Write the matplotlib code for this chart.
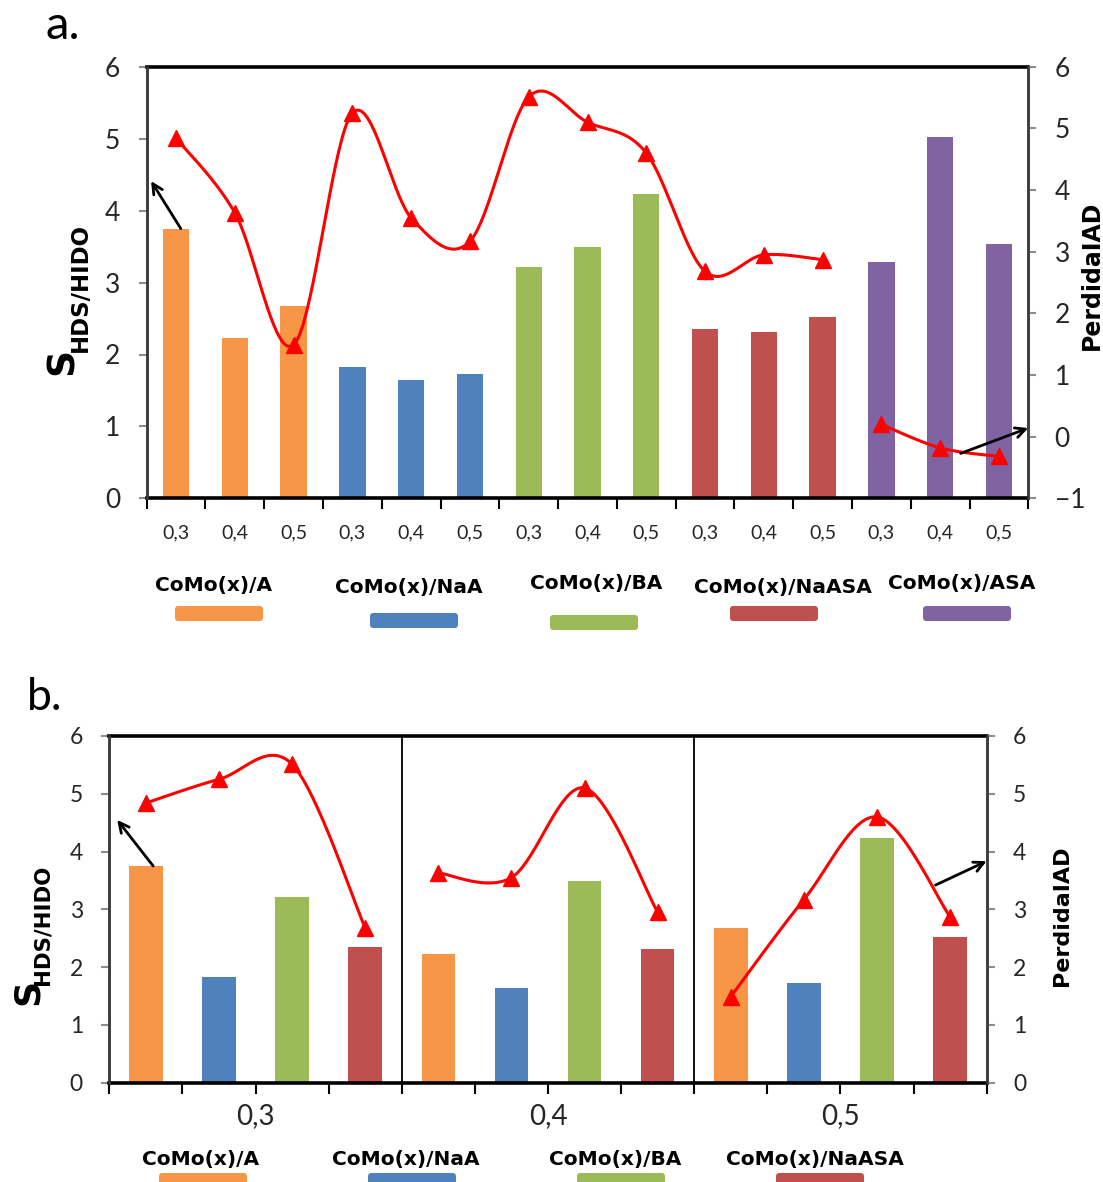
import numpy as np
import matplotlib
matplotlib.use('Agg')
import matplotlib.pyplot as plt
from matplotlib.patches import FancyBboxPatch


# Data
supports = ['CoMo(x)/A', 'CoMo(x)/NaA', 'CoMo(x)/BA', 'CoMo(x)/NaASA', 'CoMo(x)/ASA']
loadings = ['0,3', '0,4', '0,5']
colors = ['#F79646', '#4F81BD', '#9BBB59', '#C0504D', '#8064A2']

# S_HDS/HIDO (left axis) per support, for loadings 0,3 / 0,4 / 0,5
sel_A = [3.75, 2.23, 2.68]
sel_NaA = [1.83, 1.64, 1.73]
sel_BA = [3.21, 3.49, 4.23]
sel_NaASA = [2.35, 2.31, 2.52]
sel_ASA = [3.28, 5.02, 3.53]

# Perdida IAD (right axis)
loss_A = [4.84, 3.63, 1.49]
loss_NaA = [5.25, 3.55, 3.17]
loss_BA = [5.51, 5.10, 4.60]
loss_NaASA = [2.68, 2.95, 2.87]
loss_ASA = [0.20, -0.18, -0.32]

selectivity = [sel_A, sel_NaA, sel_BA, sel_NaASA, sel_ASA]
loss = [loss_A, loss_NaA, loss_BA, loss_NaASA, loss_ASA]

W, H = 1103, 1182
TICK_COLOR = '#262626'
NUM_FONT = 'Lato'
BOLD_FONT = 'DejaVu Sans'


def smooth(x, y, n=40):
    # Excel-like smoothed line: bezier segments with catmull-rom control points
    x = np.asarray(x, float)
    y = np.asarray(y, float)
    px = np.concatenate([[x[0]], x, [x[-1]]])
    py = np.concatenate([[y[0]], y, [y[-1]]])
    t = np.linspace(0, 1, n)
    xs, ys = [], []
    for i in range(1, len(px) - 2):
        p0 = np.array([px[i], py[i]])
        p3 = np.array([px[i + 1], py[i + 1]])
        c1 = p0 + (np.array([px[i + 1], py[i + 1]]) - np.array([px[i - 1], py[i - 1]])) / 6
        c2 = p3 - (np.array([px[i + 2], py[i + 2]]) - np.array([px[i], py[i]])) / 6
        pts = ((1 - t) ** 3)[:, None] * p0 + (3 * (1 - t) ** 2 * t)[:, None] * c1 \
            + (3 * (1 - t) * t ** 2)[:, None] * c2 + (t ** 3)[:, None] * p3
        xs.append(pts[:, 0])
        ys.append(pts[:, 1])
    return np.concatenate(xs), np.concatenate(ys)


def fig_rect(x0, y0, x1, y1):
    # pixel box (top-left origin) -> figure fraction rect
    return [x0 / W, 1 - y1 / H, (x1 - x0) / W, (y1 - y0) / H]


def style_axes(ax, ax2, ylim2, fs):
    for s in ['top', 'bottom']:
        ax.spines[s].set_linewidth(2.6)
        ax.spines[s].set_color('black')
    for a in (ax, ax2):
        a.spines['left'].set_linewidth(1.8)
        a.spines['left'].set_color('#3a3a3a')
        a.spines['right'].set_linewidth(1.8)
        a.spines['right'].set_color('#3a3a3a')
    ax2.spines['top'].set_visible(False)
    ax2.spines['bottom'].set_visible(False)
    ax.set_ylim(0, 6)
    ax.set_yticks(range(0, 7))
    ax2.set_ylim(*ylim2)
    ax2.set_yticks(range(ylim2[0], ylim2[1] + 1))
    for a in (ax, ax2):
        a.tick_params(axis='y', length=6, width=1.5, color='#8c8c8c', pad=13,
                      labelsize=fs, labelcolor=TICK_COLOR)
        for lab in a.get_yticklabels():
            lab.set_family(NUM_FONT)
    ax.tick_params(axis='x', which='major', length=8, width=1.5, color='black', labelbottom=False)
    ax.tick_params(axis='x', which='minor', length=0)


def legend_row(fig, entries, patch_h):
    for label, color, tx, ty, px0, py0 in entries:
        fig.text(tx / W, 1 - ty / H, label, ha='center', va='center',
                 fontsize=14.5, fontweight='bold', family=BOLD_FONT, color='black')
        r = fig_rect(px0, py0, px0 + 88, py0 + patch_h)
        fig.add_artist(FancyBboxPatch((r[0], r[1]), r[2], r[3],
                                      boxstyle='round,pad=0,rounding_size=0.003',
                                      transform=fig.transFigure, facecolor=color,
                                      edgecolor='none'))


fig = plt.figure(figsize=(W / 100, H / 100), dpi=100)

# ---------------- panel a ----------------
ax_a = fig.add_axes(fig_rect(146.7, 66.7, 1028.3, 498.4))
ax_a2 = ax_a.twinx()
n_load = len(loadings)
for j, (vals, col) in enumerate(zip(selectivity, colors)):
    xs = np.arange(n_load) + j * n_load
    ax_a.bar(xs, vals, width=0.45, color=col, zorder=2)
ax_a.set_xlim(-0.5, len(supports) * n_load - 0.5)
ax_a.set_xticks(np.arange(len(supports) * n_load + 1) - 0.5)
ax_a.set_xticks(np.arange(len(supports) * n_load), minor=True)
ax_a.set_xticklabels(loadings * len(supports), minor=True)
style_axes(ax_a, ax_a2, (-1, 6), 19)
ax_a.tick_params(axis='x', which='minor', pad=19, labelsize=14, labelcolor=TICK_COLOR)
for lab in ax_a.get_xticklabels(minor=True):
    lab.set_family(NUM_FONT)

# red line: first four supports joined, ASA on its own
joined_y = loss_A + loss_NaA + loss_BA + loss_NaASA
joined_x = np.arange(len(joined_y))
sx, sy = smooth(joined_x, joined_y)
ax_a2.plot(sx, sy, color='red', lw=2.2, zorder=3)
ax_a2.plot(joined_x, joined_y, ls='none', marker='^', ms=12, color='red', zorder=4)
asa_x = np.arange(n_load) + 4 * n_load
sx, sy = smooth(asa_x, loss_ASA)
ax_a2.plot(sx, sy, color='red', lw=2.2, zorder=3)
ax_a2.plot(asa_x, loss_ASA, ls='none', marker='^', ms=12, color='red', zorder=4)

arrow = dict(arrowstyle='->', color='black', lw=2, mutation_scale=18, shrinkA=0, shrinkB=0)
ax_a.annotate('', xy=(0.005, 0.735), xycoords='axes fraction',
              xytext=(0.08, sel_A[0]), textcoords='data', arrowprops=arrow)
ax_a2.annotate('', xy=(1.0, 0.163), xycoords='axes fraction',
               xytext=(13.35, -0.27), textcoords='data', arrowprops=arrow)

fig.text(45 / W, 1 - 39 / H, 'a.', fontsize=34, family=NUM_FONT, va='baseline', ha='left')
fig.text(63 / W, 1 - 361 / H, 'S', rotation=90, fontsize=27, fontweight='bold',
         family=BOLD_FONT, ha='center', va='center')
fig.text(80 / W, 1 - 287 / H, 'HDS/HIDO', rotation=90, fontsize=16.5, fontweight='bold',
         family=BOLD_FONT, ha='center', va='center')
fig.text(1092 / W, 1 - 275 / H, 'PerdidaIAD', rotation=90, fontsize=17, fontweight='bold',
         family=BOLD_FONT, ha='center', va='center')

legend_row(fig, [
    (supports[0], colors[0], 214, 586, 175, 606),
    (supports[1], colors[1], 409, 588, 370, 613),
    (supports[2], colors[2], 596, 583, 550, 615),
    (supports[3], colors[3], 783, 588, 730, 606),
    (supports[4], colors[4], 962, 583, 923, 606),
], 15)

# ---------------- panel b ----------------
ax_b = fig.add_axes(fig_rect(109.3, 736, 986.7, 1082.7))
ax_b2 = ax_b.twinx()
n_sup = 4
for i in range(n_load):
    for j in range(n_sup):
        ax_b.bar(i * n_sup + j, selectivity[j][i], width=0.46, color=colors[j], zorder=2)
    gx = np.arange(n_sup) + i * n_sup
    gy = [loss[j][i] for j in range(n_sup)]
    sx, sy = smooth(gx, gy)
    ax_b2.plot(sx, sy, color='red', lw=2.2, zorder=3)
    ax_b2.plot(gx, gy, ls='none', marker='^', ms=12, color='red', zorder=4)
for i in range(1, n_load):
    ax_b.axvline(i * n_sup - 0.5, color='black', lw=1.3, zorder=1)
ax_b.set_xlim(-0.5, n_load * n_sup - 0.5)
# group labels sit on top of major tick positions, keep both
ax_b.xaxis.remove_overlapping_locs = False
ax_b.set_xticks(np.arange(n_load * n_sup + 1) - 0.5)
ax_b.set_xticks(np.arange(n_load) * n_sup + (n_sup - 1) / 2, minor=True)
ax_b.set_xticklabels(loadings, minor=True)
style_axes(ax_b, ax_b2, (0, 6), 16.5)
ax_b.tick_params(axis='x', which='minor', pad=15, labelsize=20, labelcolor=TICK_COLOR)
for lab in ax_b.get_xticklabels(minor=True):
    lab.set_family(NUM_FONT)

ax_b.annotate('', xy=(0.009, 0.758), xycoords='axes fraction',
              xytext=(0.1, sel_A[0]), textcoords='data', arrowprops=arrow)
ax_b2.annotate('', xy=(1.0, 0.639), xycoords='axes fraction',
               xytext=(10.8, 3.42), textcoords='data', arrowprops=arrow)

fig.text(27 / W, 1 - 710 / H, 'b.', fontsize=32, family=NUM_FONT, va='baseline', ha='left')
fig.text(27.5 / W, 1 - 992 / H, 'S', rotation=90, fontsize=26, fontweight='bold',
         family=BOLD_FONT, ha='center', va='center')
fig.text(43 / W, 1 - 925 / H, 'HDS/HIDO', rotation=90, fontsize=15.3, fontweight='bold',
         family=BOLD_FONT, ha='center', va='center')
fig.text(1062 / W, 1 - 916 / H, 'PerdidaIAD', rotation=90, fontsize=16, fontweight='bold',
         family=BOLD_FONT, ha='center', va='center')

legend_row(fig, [
    (supports[0], colors[0], 201, 1160, 159, 1173),
    (supports[1], colors[1], 406, 1160, 368, 1173),
    (supports[2], colors[2], 615, 1160, 577, 1173),
    (supports[3], colors[3], 815, 1160, 776, 1173),
], 20)

fig.savefig('out.png', dpi=100)
